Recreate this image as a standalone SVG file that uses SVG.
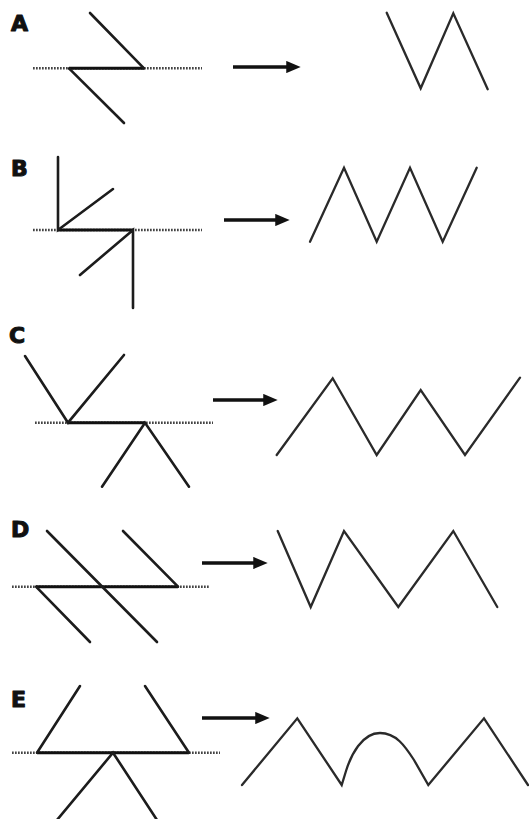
<svg xmlns="http://www.w3.org/2000/svg" width="529" height="819" viewBox="0 0 529 819">
<defs>
<style>
.lbl{font-family:"DejaVu Sans","Liberation Sans",sans-serif;font-weight:bold;font-size:22px;fill:#111;stroke:#111;stroke-width:1.1;stroke-linejoin:round}
.ln{stroke:#1c1c1c;stroke-width:2.6;fill:none;stroke-linecap:round;stroke-linejoin:miter}
.zz{stroke:#2a2a2a;stroke-width:2.3;fill:none;stroke-linecap:round;stroke-linejoin:miter}
.dot{stroke:#444;stroke-width:2.4;stroke-dasharray:1.7 1.3;fill:none}
.base{stroke:#111;stroke-width:3;fill:none}
.arr{stroke:#111;stroke-width:3.6;fill:none}
</style>
<marker id="ah" markerWidth="4" markerHeight="3.4" refX="0.2" refY="1.7" orient="auto" markerUnits="strokeWidth">
<path d="M0,0 L4,1.7 L0,3.4 Z" fill="#111"/>
</marker>
</defs>
<rect width="529" height="819" fill="#fff"/>

<g id="panelA">
<text class="lbl" x="11" y="31">A</text>
<line class="dot" x1="33" y1="68.3" x2="202" y2="68.3"/>
<line class="base" x1="69" y1="68.3" x2="144" y2="68.3"/>
<polyline class="ln" points="90,13 144,68.3"/>
<polyline class="ln" points="69,68.3 124,123"/>
</g>
<g id="resultA">
<polyline class="zz" points="386.7,12.7 420.7,88.3 453.3,13.3 487.7,89.3"/>
</g>

<g id="panelB">
<text class="lbl" x="11" y="176">B</text>
<line class="dot" x1="33" y1="230" x2="202" y2="230"/>
<line class="base" x1="58" y1="230" x2="133" y2="230"/>
<polyline class="ln" points="58,157 58,230 113,189"/>
<polyline class="ln" points="80,275 133,230 133,308"/>
</g>
<g id="resultB">
<polyline class="zz" points="310,241.7 344,167.7 376.7,241.7 410,167.7 442.7,241.7 476.7,167.7"/>
</g>

<g id="panelC">
<text class="lbl" x="9" y="343">C</text>
<line class="dot" x1="35" y1="422.7" x2="213" y2="422.7"/>
<line class="base" x1="68" y1="422.7" x2="145" y2="422.7"/>
<polyline class="ln" points="25,356 68,422.7 124,355"/>
<polyline class="ln" points="102,486.7 145,422.7 189,486.7"/>
</g>
<g id="resultC">
<polyline class="zz" points="276.7,455 332.7,378.3 376.7,455 420.7,390 465,455 520,377.7"/>
</g>

<g id="panelD">
<text class="lbl" x="11" y="537">D</text>
<line class="dot" x1="12" y1="586.7" x2="210" y2="586.7"/>
<line class="base" x1="36" y1="586.7" x2="178" y2="586.7"/>
<polyline class="ln" points="47,531 157,642"/>
<polyline class="ln" points="123,531 178,586.7"/>
<polyline class="ln" points="36,586.7 90,642"/>
</g>
<g id="resultD">
<polyline class="zz" points="277.7,531 310.7,607 344,531 398.3,607 453.3,531 497.3,607"/>
</g>

<g id="panelE">
<text class="lbl" x="11" y="707">E</text>
<line class="dot" x1="12" y1="752.7" x2="220" y2="752.7"/>
<line class="base" x1="37" y1="752.7" x2="189" y2="752.7"/>
<polyline class="ln" points="80,686 37,752.7"/>
<polyline class="ln" points="145,686 189,752.7"/>
<polyline class="ln" points="57,820 113,752.7 157,820"/>
</g>
<g id="resultE">
<path class="zz" d="M242,785 L297.3,718.3 L341.7,785 L346,771 C351,755 362,733 380,733 C396,733 405,746 414,760 L428.3,785 L484,718.3 L528,785"/>
</g>

<g id="connectors">
<line class="arr" x1="233" y1="67" x2="287" y2="67" marker-end="url(#ah)"/>
<line class="arr" x1="224" y1="220" x2="276" y2="220" marker-end="url(#ah)"/>
<line class="arr" x1="213" y1="400" x2="264" y2="400" marker-end="url(#ah)"/>
<line class="arr" x1="202" y1="563" x2="254" y2="563" marker-end="url(#ah)"/>
<line class="arr" x1="202" y1="718" x2="256" y2="718" marker-end="url(#ah)"/>
</g>
</svg>
